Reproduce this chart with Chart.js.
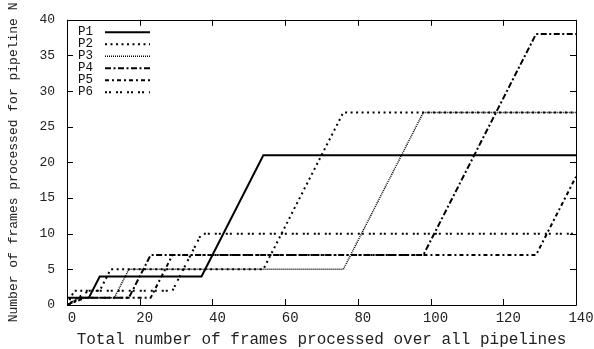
<!DOCTYPE html>
<html>
<head>
<meta charset="utf-8">
<script src="https://cdn.jsdelivr.net/npm/chart.js@4.4.1/dist/chart.umd.min.js"></script>
<style>
  html, body { margin: 0; padding: 0; background: #fff; }
  #wrap { width: 594px; height: 349px; }
</style>
</head>
<body>
<div id="wrap"><canvas id="chart" width="594" height="349"></canvas></div>
<script>
// series: total frames (x) vs frames for pipeline N (y)
const seriesNames = ['P1', 'P2', 'P3', 'P4', 'P5', 'P6'];
const p1X = [0, 6, 9, 37, 54, 140];
const p1Y = [1, 1, 4, 4, 21, 21];
const p2X = [0, 2, 9, 12, 54, 76, 140];
const p2Y = [0, 2, 2, 5, 5, 27, 27];
const p3X = [0, 3, 13, 17, 76, 98, 140];
const p3Y = [0, 1, 1, 5, 5, 27, 27];
const p4X = [0, 4, 17, 23, 98, 129, 140];
const p4Y = [0, 1, 1, 7, 7, 38, 38];
const p5X = [0, 5, 23, 29, 129, 140];
const p5Y = [0, 1, 1, 7, 7, 18];
const p6X = [0, 6, 29, 37, 140];
const p6Y = [0, 2, 2, 10, 10];

const xTicks = [0, 20, 40, 60, 80, 100, 120, 140];
const yTicks = [0, 5, 10, 15, 20, 25, 30, 35, 40];

const allX = [p1X, p2X, p3X, p4X, p5X, p6X];
const allY = [p1Y, p2Y, p3Y, p4Y, p5Y, p6Y];

// gnuplot-like dash types
const dashes = [[], [2, 3.5], [1, 1], [6, 2.5, 2, 2.5], [4, 3, 2, 3], [2, 2, 2, 5]];
const widths = [2, 2, 1.5, 2, 2, 2];

const FONT = "'Liberation Mono', 'DejaVu Sans Mono', monospace";

function toPoints(xs, ys) {
    return xs.map((x, i) => ({ x: x, y: ys[i] }));
}

const datasets = seriesNames.map((name, i) => ({
    label: name,
    data: toPoints(allX[i], allY[i]),
    borderColor: '#000',
    borderWidth: widths[i],
    borderDash: dashes[i],
    pointRadius: 0,
    fill: false,
    tension: 0
}));

// inward ticks on all four sides + full border box
const frameTicks = {
    id: 'frameTicks',
    afterDatasetsDraw(chart) {
        const { ctx, chartArea: a, scales } = chart;
        ctx.save();
        ctx.strokeStyle = '#000';
        ctx.lineWidth = 1;
        ctx.beginPath();
        ctx.rect(Math.round(a.left) + 0.5, Math.round(a.top) + 0.5,
                 Math.round(a.right - a.left), Math.round(a.bottom - a.top));
        ctx.stroke();
        const len = 6;
        ctx.beginPath();
        xTicks.forEach(v => {
            const px = Math.round(scales.x.getPixelForValue(v)) + 0.5;
            ctx.moveTo(px, a.bottom); ctx.lineTo(px, a.bottom - len);
            ctx.moveTo(px, a.top); ctx.lineTo(px, a.top + len);
        });
        yTicks.forEach(v => {
            const py = Math.round(scales.y.getPixelForValue(v)) + 0.5;
            ctx.moveTo(a.left, py); ctx.lineTo(a.left + len, py);
            ctx.moveTo(a.right, py); ctx.lineTo(a.right - len, py);
        });
        ctx.stroke();
        ctx.restore();
    }
};

// key in the top-left corner: label first, then line sample
const keyBox = {
    id: 'keyBox',
    afterDatasetsDraw(chart) {
        const { ctx, chartArea: a } = chart;
        ctx.save();
        ctx.font = '12.5px ' + FONT;
        ctx.fillStyle = '#111';
        ctx.textBaseline = 'middle';
        chart.data.datasets.forEach((ds, i) => {
            const y = a.top + 12 + i * 12;
            ctx.fillText(ds.label, a.left + 11, y);
            ctx.strokeStyle = ds.borderColor;
            ctx.lineWidth = ds.borderWidth;
            ctx.setLineDash(ds.borderDash);
            ctx.beginPath();
            ctx.moveTo(a.left + 38, y + 0.5);
            ctx.lineTo(a.left + 83, y + 0.5);
            ctx.stroke();
        });
        ctx.restore();
    }
};

const ctx = document.getElementById('chart').getContext('2d');
new Chart(ctx, {
    type: 'line',
    data: { datasets: datasets },
    options: {
        responsive: false,
        animation: false,
        layout: { padding: { top: 18, right: 18, left: 0, bottom: 0 } },
        plugins: {
            legend: { display: false },
            tooltip: { enabled: false }
        },
        scales: {
            x: {
                type: 'linear',
                min: 0,
                max: 140,
                afterBuildTicks: s => { s.ticks = xTicks.map(v => ({ value: v })); },
                afterFit: s => { s.height = 44; },
                grid: { display: false, drawTicks: false },
                border: { display: false },
                ticks: {
                    font: { family: FONT, size: 14 },
                    color: '#222',
                    padding: 5,
                    labelOffset: 5,
                    maxRotation: 0
                },
                title: {
                    display: true,
                    text: 'Total number of frames processed over all pipelines',
                    font: { family: FONT, size: 16 },
                    color: '#222',
                    padding: { top: 0, bottom: 0 }
                }
            },
            y: {
                min: 0,
                max: 40,
                afterBuildTicks: s => { s.ticks = yTicks.map(v => ({ value: v })); },
                afterFit: s => { s.width = 67; },
                grid: { display: false, drawTicks: false },
                border: { display: false },
                ticks: {
                    font: { family: FONT, size: 13 },
                    color: '#222',
                    padding: 12
                },
                title: {
                    display: true,
                    text: 'Number of frames processed for pipeline N',
                    font: { family: FONT, size: 13 },
                    color: '#222',
                    padding: { top: 6, bottom: 0 }
                }
            }
        }
    },
    plugins: [frameTicks, keyBox]
});
</script>
</body>
</html>
